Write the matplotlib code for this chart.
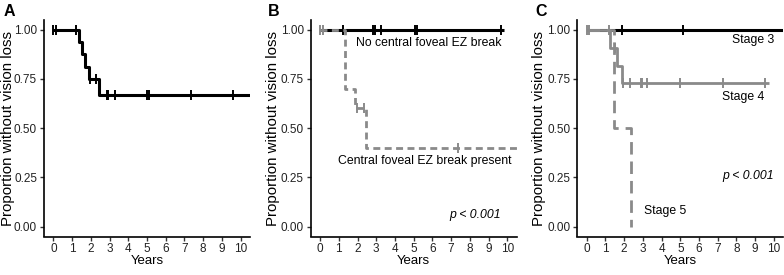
import numpy as np
import matplotlib
matplotlib.use("Agg")
import matplotlib.pyplot as plt

plt.rcParams['font.family'] = ['Liberation Sans', 'DejaVu Sans']

# ---------------- data ----------------
# Panel A: overall
a_times = [0.0, 1.36, 1.52, 1.68, 1.90, 2.42, 10.5]
a_surv = [1.0, 0.9375, 0.875, 0.8125, 0.75, 0.6667, 0.6667]
a_cens = [0.0, 0.15, 1.22, 1.94, 2.30, 2.87, 2.94, 3.28, 4.98, 5.10, 7.37, 9.59]

# Panel B: no central foveal EZ break
b1_times = [0.0, 9.82]
b1_surv = [1.0, 1.0]
b1_cens = [1.20, 2.85, 2.95, 3.26, 5.05, 5.16, 9.64]
# Panel B: central foveal EZ break present
b2_times = [0.0, 1.34, 1.88, 2.45, 10.5]
b2_surv = [1.0, 0.7, 0.6, 0.4, 0.4]
b2_cens = [0.0, 0.17, 1.95, 2.33, 7.35]

# Panel C: stages
c3_times = [0.0, 10.5]
c3_surv = [1.0, 1.0]
c3_cens = [1.87, 5.12]
c4_times = [0.0, 1.27, 1.60, 1.87, 9.75]
c4_surv = [1.0, 0.909, 0.818, 0.727, 0.727]
c4_cens = [0.0, 0.14, 1.21, 1.52, 1.92, 2.31, 2.88, 2.95, 3.20, 4.98, 7.30, 9.52]
c5_times = [0.0, 1.46, 2.37]
c5_surv = [1.0, 0.5, 0.0]
c5_cens = []

x_ticks = list(range(0, 11))
y_ticks = [0.0, 0.25, 0.50, 0.75, 1.00]
y_labels = ["0.00", "0.25", "0.50", "0.75", "1.00"]

BLACK = "#000000"
GREY = "#8a8a8a"

fig = plt.figure(figsize=(7.84, 2.75), dpi=100)
W, H = 784, 275
AX_W = 206.0

def px_axes(left, right, top=19.85, bottom=236.5):
    return fig.add_axes([left / W, (H - bottom) / H, (right - left) / W, (bottom - top) / H])

def surv_at(times, surv, t):
    idx = np.searchsorted(np.asarray(times), t, side='right') - 1
    return np.asarray(surv)[max(idx, 0)]

def km(ax, times, surv, cens, color, lw, dashes=None, zorder=2):
    kw = dict(color=color, lw=lw, where='post', zorder=zorder, solid_capstyle='butt')
    line, = ax.step(times, surv, **kw)
    if dashes is not None:
        line.set_dashes(dashes)
        line.set_dash_capstyle('butt')
    if cens:
        ys = [surv_at(times, surv, t) for t in cens]
        ax.plot(cens, ys, ls='none', marker='|', ms=7.5, mew=1.4, color=color, zorder=zorder + 0.1)

def style(ax, letter, left_px, ylab_px, letter_px):
    ax.set_xlim(-0.5, 10.5)
    ax.set_ylim(-0.05, 1.05)
    for s in ['top', 'right']:
        ax.spines[s].set_visible(False)
    for s in ['left', 'bottom']:
        ax.spines[s].set_linewidth(1.2)
    ax.set_xticks(x_ticks)
    ax.set_yticks(y_ticks)
    ax.set_yticklabels(y_labels)
    ax.tick_params(axis='both', length=3, width=1.0, color='#333333', labelsize=8.5,
                   labelcolor='#222222', pad=2)
    ax.set_xlabel("Years", fontsize=9.5)
    ax.xaxis.set_label_coords(0.5, -(261 - 236.5) / 216.65)
    ax.xaxis.label.set_verticalalignment('center')
    ax.set_ylabel("Proportion without vision loss", fontsize=10.8)
    ax.yaxis.set_label_coords((ylab_px - left_px) / AX_W, 0.5)
    ax.yaxis.label.set_verticalalignment('center')
    ax.text((letter_px - left_px) / AX_W, 1.018, letter, transform=ax.transAxes,
            fontsize=11.5, fontweight='bold', ha='left', va='baseline')

# Panel A
axA = px_axes(44, 250)
km(axA, a_times, a_surv, a_cens, BLACK, 2.2)
style(axA, "A", 44, 8.3, 3.5)

# Panel B
axB = px_axes(310.7, 516.7)
km(axB, b1_times, b1_surv, b1_cens, BLACK, 2.2, zorder=2)
km(axB, b2_times, b2_surv, b2_cens, GREY, 2.0, dashes=(2.5, 1.6), zorder=3)
style(axB, "B", 310.7, 273.3, 268)
axB.text(5.78, 0.934, "No central foveal EZ break", fontsize=8.8, ha='center', va='center')
axB.text(5.58, 0.332, "Central foveal EZ break present", fontsize=8.8, ha='center', va='center')
axB.text(8.3, 0.059, "p < 0.001", fontsize=8.8, style='italic', ha='center', va='center')

# Panel C
axC = px_axes(577.3, 783.3)
km(axC, c3_times, c3_surv, c3_cens, BLACK, 2.2, zorder=2)
km(axC, c5_times, c5_surv, c5_cens, GREY, 2.0, dashes=(4.5, 2.5), zorder=3)
km(axC, c4_times, c4_surv, c4_cens, GREY, 2.0, zorder=4)
style(axC, "C", 577.3, 539.3, 535)
axC.text(8.9, 0.948, "Stage 3", fontsize=8.8, ha='center', va='center')
axC.text(8.36, 0.658, "Stage 4", fontsize=8.8, ha='center', va='center')
axC.text(4.18, 0.081, "Stage 5", fontsize=8.8, ha='center', va='center')
axC.text(8.6, 0.257, "p < 0.001", fontsize=8.8, style='italic', ha='center', va='center')

fig.savefig("out.png", dpi=100)
